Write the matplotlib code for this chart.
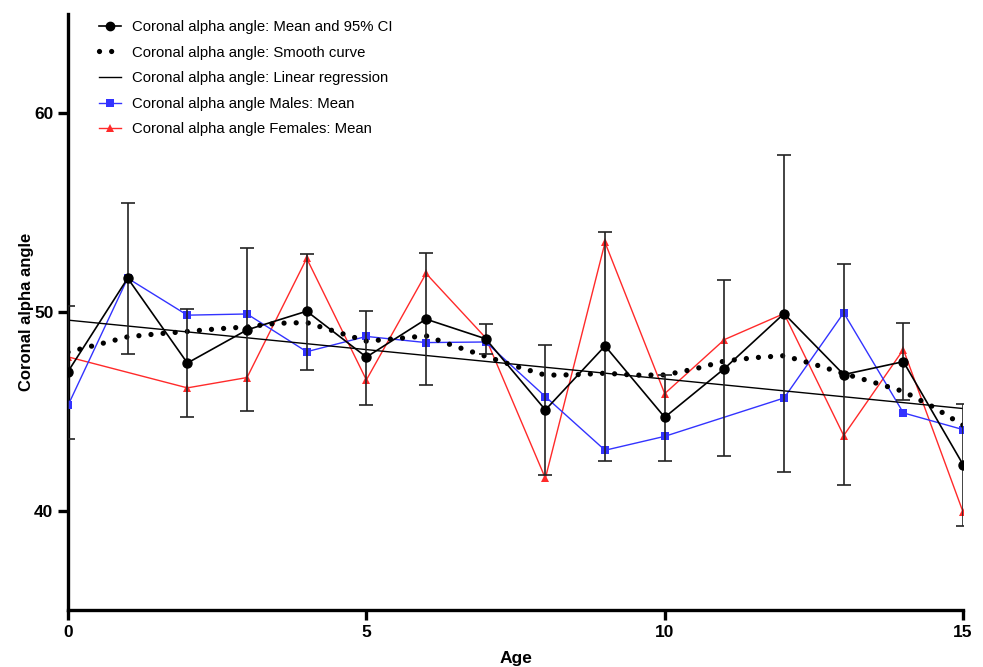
import numpy as np
import matplotlib.pyplot as plt
from matplotlib.lines import Line2D

plt.rcParams['font.family'] = ['Liberation Sans', 'DejaVu Sans']

# Edad
ages = np.arange(0, 16)

# Media y IC 95%
mean_vals = [47.0, 51.7, 47.43, 49.1, 50.04, 47.73, 49.64, 48.65,
             45.07, 48.29, 44.7, 47.15, 49.92, 46.85, 47.5, 42.32]
ci_low = [43.6, 47.91, 44.7, 45.0, 47.1, 45.31, 46.3, 47.91,
          41.78, 42.52, 42.49, 42.74, 41.93, 41.31, 45.56, 39.21]
ci_high = [50.31, 55.5, 50.14, 53.21, 52.93, 50.04, 52.96, 49.4,
           48.36, 54.05, 46.82, 51.6, 57.91, 52.41, 49.44, 45.39]

# Hombres (sin dato a los 11)
male_ages = [0, 1, 2, 3, 4, 5, 6, 7, 8, 9, 10, 12, 13, 14, 15]
male_vals = [45.3, 51.7, 49.84, 49.9, 48.0, 48.77, 48.46, 48.49,
             45.74, 43.04, 43.74, 45.67, 49.96, 44.92, 44.08]

# Mujeres (sin dato a 1 año)
female_ages = [0, 2, 3, 4, 5, 6, 7, 8, 9, 10, 11, 12, 13, 14, 15]
female_vals = [47.74, 46.18, 46.7, 52.7, 46.58, 51.94, 48.7, 41.63,
               53.5, 45.89, 48.61, 49.92, 43.78, 48.11, 39.93]

# Curva suavizada
smooth_x = np.arange(0, 15.5, 0.5)
smooth_y = [47.98, 48.36, 48.75, 48.9, 49.02, 49.15, 49.25, 49.43, 49.47,
            49.0, 48.53, 48.66, 48.8, 48.26, 47.77, 47.27, 46.82, 46.84,
            46.92, 46.82, 46.83, 47.13, 47.53, 47.7, 47.8, 47.37, 46.9,
            46.46, 46.0, 45.22, 44.3]

# Regresión lineal (extremos)
reg_x = [0, 15]
reg_y = [49.59, 45.14]

fig = plt.figure(figsize=(9.83, 6.67), dpi=100)
ax = fig.add_axes([0.0692, 0.0855, 0.9105, 0.8935])

yerr = [np.array(mean_vals) - np.array(ci_low), np.array(ci_high) - np.array(mean_vals)]

ax.plot(female_ages, female_vals, color='#ff2a2a', lw=1.0, marker='^', ms=6,
        markeredgewidth=0, zorder=2)
ax.plot(male_ages, male_vals, color='#3333ff', lw=1.0, marker='s', ms=5.5,
        markeredgewidth=0, zorder=3)
ax.plot(smooth_x, smooth_y, color='black', lw=3.8, linestyle=(0, (0.001, 2.3)),
        dash_capstyle='round', zorder=4)
ax.plot(reg_x, reg_y, color='black', lw=1.0, zorder=4)
ax.errorbar(ages, mean_vals, yerr=yerr, fmt='none', ecolor='#222222',
            elinewidth=1.2, capsize=5, capthick=1.2, zorder=5)
ax.plot(ages, mean_vals, color='black', lw=1.2, marker='o', ms=6.5, zorder=6)

ax.set_xlim(0, 15)
ax.set_ylim(35, 65)
ax.set_xticks([0, 5, 10, 15])
ax.set_yticks([40, 50, 60])
for s in ['top', 'right']:
    ax.spines[s].set_visible(False)
for s in ['left', 'bottom']:
    ax.spines[s].set_linewidth(2.4)
ax.tick_params(width=2.4, length=7, labelsize=12.5)
for lab in ax.get_xticklabels() + ax.get_yticklabels():
    lab.set_fontweight('bold')
ax.set_xlabel('Age', fontsize=12.5, fontweight='bold', labelpad=8)
ax.set_ylabel('Coronal alpha angle', fontsize=12, fontweight='bold', labelpad=0)

handles = [
    Line2D([], [], color='black', lw=1.2, marker='o', ms=6),
    Line2D([], [], color='black', lw=3.8, linestyle=(0, (0.001, 2.3)), dash_capstyle='round'),
    Line2D([], [], color='black', lw=1.0),
    Line2D([], [], color='#3333ff', lw=1.0, marker='s', ms=5.5, markeredgewidth=0),
    Line2D([], [], color='#ff2a2a', lw=1.0, marker='^', ms=6, markeredgewidth=0),
]
labels = ['Coronal alpha angle: Mean and 95% CI',
          'Coronal alpha angle: Smooth curve',
          'Coronal alpha angle: Linear regression',
          'Coronal alpha angle Males: Mean',
          'Coronal alpha angle Females: Mean']
ax.legend(handles, labels, loc='upper left', bbox_to_anchor=(0.087, 0.99),
          bbox_transform=fig.transFigure, frameon=False, fontsize=10.7,
          handlelength=1.5, handletextpad=0.75, labelspacing=0.78)

fig.savefig('out.png', dpi=100)
